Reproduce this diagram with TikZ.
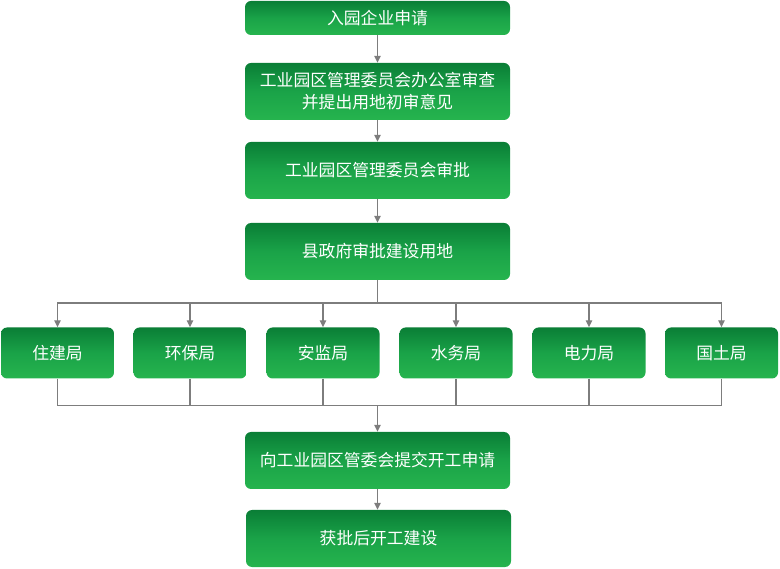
\documentclass[tikz,border=0pt]{standalone}
\usepackage{fontspec}
\newfontfamily\cjk{Noto Sans CJK SC}
\usetikzlibrary{arrows.meta}
\definecolor{gtop}{RGB}{10,126,54}
\definecolor{gmid}{RGB}{26,163,72}
\definecolor{gbot}{RGB}{38,180,78}
\definecolor{lgray}{RGB}{125,125,125}
\tikzset{
  box/.style={rounded corners=6pt, top color=gtop, bottom color=gbot, middle color=gmid,
    text=white, align=center, inner sep=0pt, font=\cjk\fontsize{16.8}{22}\selectfont},
  wide/.style={box, minimum width=265pt, minimum height=57pt},
  bureau/.style={box, minimum width=113pt, minimum height=51pt},
  link/.style={draw=lgray, line width=1.4pt},
  arr/.style={link, -{Triangle[length=7pt,width=6.5pt]}}
}
\begin{document}
\begin{tikzpicture}[x=1pt,y=-1pt]
  \useasboundingbox (0,0) rectangle (780,569);
  \node[wide, minimum height=34pt] (apply) at (377.5,18) {入园企业申请};
  \node[wide] (office) at (377.5,91.5) {工业园区管理委员会办公室审查\\并提出用地初审意见};
  \node[wide] (committee) at (377.5,170.5) {工业园区管理委员会审批};
  \node[wide] (county) at (377.5,251.5) {县政府审批建设用地};
  \node[bureau] (housing) at (57.5,353) {住建局};
  \node[bureau] (environ) at (190,353) {环保局};
  \node[bureau] (safety) at (323,353) {安监局};
  \node[bureau] (water) at (456,353) {水务局};
  \node[bureau] (power) at (589,353) {电力局};
  \node[bureau] (land) at (721.5,353) {国土局};
  \node[wide] (submit) at (377.5,460.5) {向工业园区管委会提交开工申请};
  \node[wide] (build) at (378.5,538.5) {获批后开工建设};
  \coordinate (split) at (377.5,303);
  \coordinate (join) at (377.5,405.5);
  \draw[arr] (apply) -- (office);
  \draw[arr] (office) -- (committee);
  \draw[arr] (committee) -- (county);
  \draw[link] (county) -- (split);
  \draw[arr] (split) -| (housing);
  \draw[arr] (split) -| (environ);
  \draw[arr] (split) -| (safety);
  \draw[arr] (split) -| (water);
  \draw[arr] (split) -| (power);
  \draw[arr] (split) -| (land);
  \draw[link] (housing) |- (join);
  \draw[link] (environ) |- (join);
  \draw[link] (safety) |- (join);
  \draw[link] (water) |- (join);
  \draw[link] (power) |- (join);
  \draw[link] (land) |- (join);
  \draw[arr] (join) -- (submit);
  \draw[arr] (submit) -- (build.north -| submit.south);
\end{tikzpicture}
\end{document}
